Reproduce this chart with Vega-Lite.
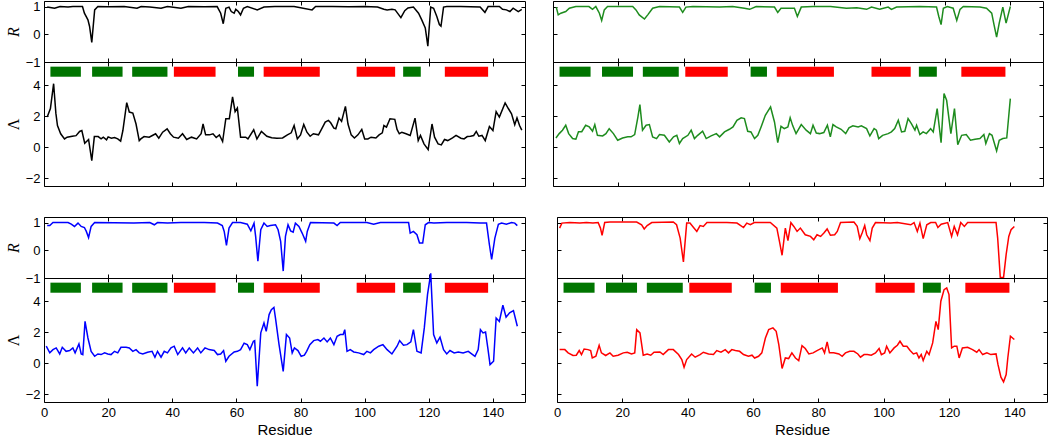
{
"$schema": "https://vega.github.io/schema/vega-lite/v6.json",
"padding": {"left": 4, "top": 0, "right": 0, "bottom": 0},
"spacing": 29,
"config": {
 "view": {"stroke": "#000", "strokeWidth": 1},
 "axis": {"domain": false, "grid": false, "ticks": true, "tickSize": 4, "offset": -4, "tickColor": "#000", "tickWidth": 1,
  "labelFont": "Liberation Sans", "labelFontSize": 13, "labelColor": "#000", "labelFlush": false, "labelPadding": 4,
  "titleFont": "Liberation Sans", "titleFontSize": 15, "titleFontWeight": "normal", "titleColor": "#000", "titlePadding": 3},
 "line": {"strokeWidth": 1.5, "clip": true}
},
"datasets": {
 "bars": [
  {"a": 2, "b": 11.5, "t": "E"}, {"a": 15, "b": 24.5, "t": "E"}, {"a": 27.5, "b": 38.5, "t": "E"},
  {"a": 40.5, "b": 53.5, "t": "H"}, {"a": 60.5, "b": 65.5, "t": "E"}, {"a": 68.5, "b": 86, "t": "H"},
  {"a": 97.5, "b": 109.5, "t": "H"}, {"a": 112, "b": 117.5, "t": "E"}, {"a": 125, "b": 138.5, "t": "H"}
 ],
 "AR": [{"x":1,"y":0.98},{"x":3.3,"y":0.94},{"x":5,"y":1.0},{"x":7.5,"y":0.98},{"x":9,"y":1.0},{"x":12,"y":1.0},{"x":12.6,"y":0.76},{"x":13.7,"y":0.52},{"x":14.2,"y":0.29},{"x":14.9,"y":-0.29},{"x":15.8,"y":0.88},{"x":16.8,"y":1.0},{"x":20,"y":0.99},{"x":25,"y":1.0},{"x":29,"y":0.94},{"x":30.3,"y":1.0},{"x":33,"y":0.98},{"x":36.5,"y":0.94},{"x":38.5,"y":1.0},{"x":42.7,"y":0.94},{"x":45,"y":1.0},{"x":50,"y":0.99},{"x":54,"y":1.0},{"x":55.1,"y":0.76},{"x":55.9,"y":0.38},{"x":56.7,"y":0.94},{"x":57.7,"y":0.98},{"x":58.4,"y":0.82},{"x":59.3,"y":0.76},{"x":59.8,"y":0.9},{"x":60.6,"y":0.82},{"x":61.3,"y":0.7},{"x":62.2,"y":0.94},{"x":63.4,"y":1.0},{"x":66.5,"y":0.88},{"x":68.6,"y":0.98},{"x":72,"y":1.0},{"x":78,"y":1.0},{"x":83.6,"y":0.88},{"x":84.7,"y":1.0},{"x":90,"y":1.0},{"x":95,"y":0.99},{"x":100,"y":1.0},{"x":104,"y":0.98},{"x":106,"y":0.9},{"x":107,"y":0.88},{"x":108.5,"y":0.9},{"x":109.5,"y":0.88},{"x":111.3,"y":0.6},{"x":112.5,"y":0.85},{"x":113.5,"y":0.95},{"x":115.2,"y":0.98},{"x":116.8,"y":0.76},{"x":117.8,"y":0.52},{"x":118.9,"y":0.23},{"x":119.7,"y":-0.43},{"x":120.6,"y":0.98},{"x":121.5,"y":0.94},{"x":122.5,"y":0.64},{"x":123.3,"y":0.35},{"x":123.8,"y":0.29},{"x":124.6,"y":0.98},{"x":125.6,"y":1.0},{"x":130,"y":1.0},{"x":136,"y":0.98},{"x":137.5,"y":0.79},{"x":138.5,"y":1.0},{"x":142,"y":1.0},{"x":143,"y":0.9},{"x":144.2,"y":0.88},{"x":145.3,"y":0.82},{"x":146.3,"y":0.94},{"x":147.9,"y":0.82},{"x":149,"y":0.9}],
 "AL": [{"x":1,"y":1.95},{"x":2,"y":2.5},{"x":3,"y":4.1},{"x":3.7,"y":2.2},{"x":4.2,"y":1.4},{"x":5.2,"y":0.87},{"x":6.4,"y":0.54},{"x":7.2,"y":0.65},{"x":8.8,"y":0.71},{"x":10,"y":0.75},{"x":11.1,"y":1.02},{"x":11.8,"y":1.08},{"x":12.7,"y":0.26},{"x":13.9,"y":0.5},{"x":14.9,"y":-0.87},{"x":15.7,"y":0.69},{"x":16.9,"y":0.69},{"x":17.8,"y":0.54},{"x":18.5,"y":0.65},{"x":19.5,"y":0.48},{"x":20,"y":0.67},{"x":21,"y":0.58},{"x":22,"y":0.63},{"x":23,"y":0.54},{"x":23.9,"y":0.39},{"x":24.6,"y":1.08},{"x":25.8,"y":2.88},{"x":26.6,"y":2.27},{"x":27.7,"y":2.2},{"x":28.7,"y":1.5},{"x":29.7,"y":0.43},{"x":30.2,"y":0.54},{"x":31.2,"y":0.69},{"x":32.8,"y":0.65},{"x":33.8,"y":0.76},{"x":34.8,"y":0.87},{"x":35.8,"y":0.58},{"x":37,"y":0.97},{"x":38.4,"y":1.19},{"x":39.4,"y":0.87},{"x":40.4,"y":0.65},{"x":41.9,"y":0.58},{"x":43.2,"y":0.87},{"x":44.5,"y":0.5},{"x":46,"y":0.65},{"x":47.6,"y":0.54},{"x":49,"y":0.87},{"x":49.6,"y":1.5},{"x":50.4,"y":0.8},{"x":51.6,"y":0.8},{"x":52.7,"y":0.87},{"x":53.7,"y":0.63},{"x":54.7,"y":0.8},{"x":55.7,"y":0.37},{"x":56.7,"y":1.84},{"x":57.8,"y":1.84},{"x":58.8,"y":3.25},{"x":59.6,"y":2.3},{"x":60.3,"y":2.53},{"x":61.3,"y":0.65},{"x":62.9,"y":0.65},{"x":63.6,"y":0.54},{"x":65.4,"y":1.13},{"x":66.4,"y":0.54},{"x":67.8,"y":1.02},{"x":69.5,"y":0.71},{"x":71,"y":0.61},{"x":72.6,"y":0.58},{"x":74.4,"y":0.6},{"x":75.9,"y":0.8},{"x":77.1,"y":0.93},{"x":78,"y":1.4},{"x":79,"y":0.54},{"x":80,"y":0.8},{"x":81,"y":1.47},{"x":82,"y":0.97},{"x":83,"y":0.71},{"x":84,"y":0.87},{"x":85.6,"y":0.8},{"x":86.6,"y":1.19},{"x":87.7,"y":1.62},{"x":88.7,"y":1.73},{"x":89.4,"y":1.58},{"x":90.4,"y":1.23},{"x":91,"y":1.19},{"x":92,"y":1.88},{"x":92.8,"y":1.67},{"x":94,"y":2.64},{"x":94.8,"y":1.5},{"x":95.8,"y":0.8},{"x":96.8,"y":0.6},{"x":97.9,"y":0.8},{"x":99.1,"y":1.15},{"x":100,"y":0.54},{"x":101,"y":0.54},{"x":102,"y":0.65},{"x":103.5,"y":0.6},{"x":104.5,"y":0.8},{"x":105.5,"y":0.93},{"x":106,"y":1.4},{"x":106.8,"y":1.3},{"x":107.9,"y":1.84},{"x":109.4,"y":1.8},{"x":110.1,"y":1.15},{"x":110.8,"y":0.87},{"x":111.6,"y":0.97},{"x":112.9,"y":0.87},{"x":114.2,"y":0.76},{"x":115.7,"y":1.88},{"x":116.7,"y":0.43},{"x":117.4,"y":0.76},{"x":118.5,"y":0.22},{"x":119.8,"y":-0.15},{"x":121,"y":1.5},{"x":121.8,"y":0.65},{"x":122.9,"y":0.22},{"x":123.9,"y":0.15},{"x":124.9,"y":0.5},{"x":125.9,"y":0.43},{"x":127.4,"y":0.6},{"x":128.5,"y":0.76},{"x":130,"y":0.58},{"x":131,"y":0.54},{"x":132,"y":0.69},{"x":133,"y":0.71},{"x":134,"y":0.76},{"x":134.8,"y":1.02},{"x":135.6,"y":0.71},{"x":136.6,"y":0.76},{"x":137.6,"y":0.43},{"x":138.9,"y":1.34},{"x":140,"y":1.08},{"x":141,"y":2.3},{"x":142,"y":1.95},{"x":143.8,"y":2.86},{"x":144.8,"y":2.5},{"x":145.8,"y":2.16},{"x":146.8,"y":1.45},{"x":147.5,"y":1.9},{"x":148.3,"y":1.4},{"x":149,"y":1.1}],
 "BR": [{"x":1,"y":0.98},{"x":1.6,"y":0.7},{"x":2.4,"y":0.76},{"x":3.9,"y":0.82},{"x":5,"y":0.94},{"x":7,"y":1.0},{"x":11,"y":1.0},{"x":12.1,"y":0.9},{"x":13.1,"y":1.0},{"x":14.2,"y":0.76},{"x":14.9,"y":0.5},{"x":15.7,"y":0.88},{"x":16.7,"y":1.0},{"x":24.4,"y":1.0},{"x":25.4,"y":0.88},{"x":26.4,"y":0.7},{"x":28,"y":0.55},{"x":29,"y":0.7},{"x":30.5,"y":0.94},{"x":32.6,"y":1.0},{"x":38.7,"y":0.98},{"x":39.7,"y":0.79},{"x":40.7,"y":0.98},{"x":42.8,"y":1.0},{"x":51,"y":0.98},{"x":55,"y":1.0},{"x":58.6,"y":0.94},{"x":60.2,"y":0.9},{"x":62.2,"y":1.0},{"x":67.8,"y":0.98},{"x":68.8,"y":0.79},{"x":69.8,"y":0.94},{"x":73.9,"y":0.94},{"x":74.8,"y":0.64},{"x":76,"y":0.98},{"x":79.6,"y":1.0},{"x":85,"y":1.0},{"x":89.8,"y":0.94},{"x":93,"y":0.96},{"x":96,"y":0.9},{"x":97.5,"y":0.98},{"x":100,"y":0.9},{"x":102.6,"y":0.98},{"x":103.6,"y":0.9},{"x":105.2,"y":0.98},{"x":112.3,"y":1.0},{"x":117.4,"y":0.98},{"x":118.1,"y":0.64},{"x":118.8,"y":0.35},{"x":119.5,"y":0.94},{"x":120.7,"y":1.0},{"x":122.5,"y":0.94},{"x":123.6,"y":0.5},{"x":124.6,"y":0.9},{"x":125.6,"y":1.0},{"x":130.7,"y":0.98},{"x":132.7,"y":0.94},{"x":134.3,"y":0.76},{"x":135,"y":0.35},{"x":135.8,"y":-0.1},{"x":136.6,"y":0.4},{"x":137.7,"y":0.98},{"x":138.7,"y":0.4},{"x":140,"y":1.0}],
 "BL": [{"x":0.9,"y":0.6},{"x":1.9,"y":0.88},{"x":2.9,"y":1.1},{"x":3.9,"y":1.42},{"x":4.8,"y":0.88},{"x":6,"y":0.56},{"x":7,"y":0.52},{"x":7.8,"y":1.0},{"x":8.8,"y":1.0},{"x":10,"y":1.42},{"x":11.1,"y":1.31},{"x":12.1,"y":1.03},{"x":12.8,"y":1.46},{"x":13.6,"y":0.77},{"x":15.2,"y":0.73},{"x":16.2,"y":0.88},{"x":17.2,"y":1.2},{"x":18.5,"y":0.88},{"x":19.8,"y":0.45},{"x":21.3,"y":0.6},{"x":22.9,"y":0.67},{"x":23.9,"y":0.67},{"x":25,"y":0.82},{"x":26,"y":1.96},{"x":26.6,"y":2.75},{"x":27.4,"y":1.1},{"x":28.5,"y":1.42},{"x":29.5,"y":1.46},{"x":30.5,"y":0.67},{"x":31.7,"y":0.56},{"x":32.6,"y":0.82},{"x":34.1,"y":0.77},{"x":35.6,"y":0.34},{"x":36.9,"y":0.67},{"x":37.9,"y":0.77},{"x":38.7,"y":0.24},{"x":39.7,"y":0.56},{"x":41.3,"y":0.77},{"x":42.3,"y":1.1},{"x":43.3,"y":0.56},{"x":44.3,"y":0.77},{"x":45.8,"y":1.03},{"x":46.9,"y":0.56},{"x":48.4,"y":0.73},{"x":50,"y":0.88},{"x":51,"y":0.67},{"x":52.5,"y":0.99},{"x":54,"y":1.16},{"x":55.1,"y":1.31},{"x":56.3,"y":1.74},{"x":57.6,"y":1.9},{"x":58.6,"y":1.85},{"x":59.6,"y":1.03},{"x":60.6,"y":0.99},{"x":61.7,"y":0.56},{"x":62.7,"y":0.77},{"x":63.7,"y":1.31},{"x":65,"y":2.06},{"x":66.6,"y":2.6},{"x":67.8,"y":1.63},{"x":68.8,"y":0.3},{"x":69.8,"y":1.35},{"x":70.8,"y":1.2},{"x":71.9,"y":1.31},{"x":72.6,"y":1.9},{"x":73.4,"y":1.38},{"x":74.4,"y":0.88},{"x":76,"y":1.46},{"x":77.5,"y":1.1},{"x":78.8,"y":0.88},{"x":79.6,"y":1.42},{"x":80.6,"y":0.92},{"x":81.6,"y":0.88},{"x":82.9,"y":0.95},{"x":84,"y":1.42},{"x":84.9,"y":0.67},{"x":85.7,"y":1.46},{"x":86.7,"y":1.31},{"x":88.2,"y":1.16},{"x":89.6,"y":0.88},{"x":90.6,"y":1.25},{"x":91.8,"y":1.38},{"x":93.4,"y":1.31},{"x":94.4,"y":1.38},{"x":96,"y":1.2},{"x":97,"y":0.73},{"x":98.3,"y":1.2},{"x":99,"y":1.1},{"x":99.7,"y":0.56},{"x":100.9,"y":0.77},{"x":102.6,"y":0.88},{"x":103.6,"y":0.99},{"x":104.6,"y":1.2},{"x":105.7,"y":1.74},{"x":106.7,"y":0.99},{"x":107.7,"y":1.03},{"x":108.7,"y":1.85},{"x":109.7,"y":1.53},{"x":110.8,"y":1.1},{"x":111.3,"y":1.42},{"x":112.3,"y":0.82},{"x":113.3,"y":0.99},{"x":114.3,"y":0.88},{"x":115.6,"y":1.2},{"x":116.4,"y":0.99},{"x":117.6,"y":2.49},{"x":118.8,"y":0.3},{"x":119.7,"y":3.46},{"x":120.5,"y":3.03},{"x":121.8,"y":0.88},{"x":122.9,"y":2.49},{"x":123.9,"y":0.17},{"x":125.1,"y":0.77},{"x":126.5,"y":0.82},{"x":127.8,"y":0.45},{"x":129.2,"y":0.52},{"x":130.7,"y":0.56},{"x":131.9,"y":0.82},{"x":132.5,"y":0.24},{"x":133.6,"y":0.88},{"x":134.4,"y":0.77},{"x":135,"y":0.34},{"x":135.8,"y":-0.24},{"x":136.6,"y":0.45},{"x":137.7,"y":0.56},{"x":138.9,"y":0.6},{"x":140,"y":3.14}],
 "CR": [{"x":1,"y":0.89},{"x":1.8,"y":0.89},{"x":2.8,"y":1.0},{"x":7.5,"y":1.0},{"x":8.5,"y":0.94},{"x":9.5,"y":0.86},{"x":10.6,"y":0.98},{"x":11.6,"y":0.86},{"x":12.6,"y":0.82},{"x":13.2,"y":0.68},{"x":13.9,"y":0.46},{"x":14.7,"y":0.86},{"x":15.8,"y":1.0},{"x":28,"y":0.98},{"x":33,"y":1.0},{"x":34.4,"y":0.92},{"x":35.4,"y":1.0},{"x":38.5,"y":0.98},{"x":42.7,"y":1.0},{"x":50,"y":1.0},{"x":54.1,"y":0.98},{"x":55.6,"y":0.89},{"x":56.2,"y":0.68},{"x":56.9,"y":0.18},{"x":57.7,"y":0.8},{"x":58.8,"y":1.0},{"x":61.3,"y":1.0},{"x":63.4,"y":0.94},{"x":64.5,"y":0.7},{"x":65.5,"y":0.98},{"x":66,"y":0.5},{"x":66.7,"y":-0.39},{"x":67.6,"y":0.74},{"x":68.6,"y":0.98},{"x":69.6,"y":0.86},{"x":70.6,"y":0.89},{"x":72.2,"y":0.92},{"x":73,"y":0.74},{"x":73.8,"y":0.32},{"x":74.6,"y":-0.75},{"x":75.3,"y":0.5},{"x":76.1,"y":0.92},{"x":76.9,"y":0.7},{"x":77.7,"y":0.65},{"x":78.4,"y":0.98},{"x":79.5,"y":0.86},{"x":80.5,"y":0.62},{"x":81.6,"y":0.32},{"x":82.1,"y":0.68},{"x":83.1,"y":1.0},{"x":90.4,"y":0.98},{"x":91.4,"y":0.89},{"x":92.4,"y":1.0},{"x":100.7,"y":1.0},{"x":102.8,"y":0.94},{"x":104.9,"y":1.0},{"x":113.7,"y":1.0},{"x":114.2,"y":0.62},{"x":115.2,"y":0.68},{"x":116.3,"y":0.56},{"x":117.1,"y":0.26},{"x":118.1,"y":0.26},{"x":118.9,"y":0.92},{"x":119.9,"y":1.0},{"x":121.6,"y":0.98},{"x":125.6,"y":1.0},{"x":131.8,"y":1.0},{"x":136,"y":0.98},{"x":138,"y":0.98},{"x":138.9,"y":0.2},{"x":139.6,"y":-0.33},{"x":140.6,"y":0.44},{"x":141.7,"y":0.94},{"x":142.7,"y":0.98},{"x":144.2,"y":0.94},{"x":145.8,"y":1.0},{"x":146.8,"y":0.98},{"x":147.6,"y":0.89}],
 "CL": [{"x":0.7,"y":1.1},{"x":1.8,"y":0.67},{"x":2.8,"y":0.88},{"x":3.8,"y":0.99},{"x":4.9,"y":0.6},{"x":5.7,"y":1.03},{"x":6.9,"y":0.77},{"x":8,"y":0.82},{"x":9,"y":0.99},{"x":9.7,"y":0.67},{"x":10.9,"y":1.25},{"x":11.6,"y":0.6},{"x":12.1,"y":0.56},{"x":12.8,"y":2.7},{"x":13.7,"y":1.63},{"x":14.7,"y":0.77},{"x":15.8,"y":0.45},{"x":16.8,"y":0.6},{"x":17.8,"y":0.56},{"x":18.9,"y":0.67},{"x":19.9,"y":0.6},{"x":20.9,"y":0.56},{"x":22,"y":0.77},{"x":23,"y":0.67},{"x":24,"y":1.03},{"x":25.6,"y":1.03},{"x":26.6,"y":0.99},{"x":27.7,"y":0.77},{"x":28.7,"y":0.88},{"x":29.7,"y":0.67},{"x":30.8,"y":0.6},{"x":32.3,"y":0.71},{"x":33.7,"y":0.77},{"x":34.6,"y":0.39},{"x":35.4,"y":0.77},{"x":36.5,"y":0.39},{"x":37.5,"y":0.77},{"x":38.5,"y":0.67},{"x":39.6,"y":0.99},{"x":40.6,"y":1.1},{"x":41.7,"y":0.56},{"x":43.2,"y":0.99},{"x":44.2,"y":0.67},{"x":45.3,"y":0.99},{"x":46.6,"y":0.67},{"x":47.9,"y":0.99},{"x":48.9,"y":0.67},{"x":50.2,"y":0.99},{"x":51.5,"y":0.88},{"x":53.1,"y":0.82},{"x":54.1,"y":0.56},{"x":55.1,"y":0.6},{"x":56,"y":0.82},{"x":56.7,"y":0.13},{"x":57.7,"y":0.45},{"x":59.3,"y":0.73},{"x":60.3,"y":0.77},{"x":61.3,"y":0.88},{"x":62.4,"y":1.29},{"x":63.4,"y":1.2},{"x":64.2,"y":0.88},{"x":65.3,"y":1.42},{"x":65.7,"y":1.46},{"x":66.5,"y":-1.48},{"x":67.6,"y":1.96},{"x":68.6,"y":2.6},{"x":69.3,"y":2.06},{"x":70.2,"y":3.14},{"x":70.9,"y":3.46},{"x":71.7,"y":3.6},{"x":72.2,"y":2.9},{"x":73.3,"y":1.2},{"x":74.6,"y":-0.52},{"x":75.6,"y":1.85},{"x":76.6,"y":1.63},{"x":77.4,"y":0.67},{"x":78.1,"y":0.99},{"x":79.2,"y":0.82},{"x":80.2,"y":0.45},{"x":81.2,"y":0.52},{"x":81.9,"y":0.77},{"x":82.9,"y":1.2},{"x":84.1,"y":1.46},{"x":85.4,"y":1.53},{"x":86.2,"y":1.42},{"x":87.3,"y":1.63},{"x":88.3,"y":1.38},{"x":89.3,"y":1.63},{"x":90.4,"y":1.2},{"x":91.4,"y":1.74},{"x":92.4,"y":1.85},{"x":93.3,"y":1.85},{"x":93.8,"y":2.17},{"x":94.5,"y":0.77},{"x":95.5,"y":0.88},{"x":96.6,"y":0.73},{"x":98.1,"y":0.67},{"x":99.7,"y":0.56},{"x":100.7,"y":0.77},{"x":101.8,"y":0.67},{"x":102.8,"y":0.88},{"x":104.4,"y":1.1},{"x":105.7,"y":1.2},{"x":107,"y":0.88},{"x":108.5,"y":0.6},{"x":110.1,"y":1.1},{"x":110.9,"y":1.46},{"x":112.1,"y":1.16},{"x":113.2,"y":1.2},{"x":114.4,"y":1.38},{"x":115.2,"y":2.17},{"x":116.3,"y":0.77},{"x":117.6,"y":0.67},{"x":118.6,"y":2.28},{"x":119.6,"y":4.43},{"x":120.6,"y":5.8},{"x":121.5,"y":1.85},{"x":122.5,"y":1.31},{"x":123.5,"y":1.68},{"x":124.6,"y":0.88},{"x":125.6,"y":0.6},{"x":126.6,"y":0.82},{"x":127.9,"y":0.67},{"x":129.2,"y":0.73},{"x":130.7,"y":0.67},{"x":132.3,"y":0.77},{"x":134.4,"y":0.45},{"x":135.4,"y":0.88},{"x":136.1,"y":2.17},{"x":136.9,"y":1.96},{"x":137.7,"y":2.02},{"x":138.4,"y":0.99},{"x":139.1,"y":-0.09},{"x":140.2,"y":0.13},{"x":141,"y":2.92},{"x":142,"y":2.7},{"x":143.1,"y":3.74},{"x":144.1,"y":2.97},{"x":145.2,"y":3.25},{"x":146.4,"y":3.4},{"x":147.6,"y":2.39}],
 "DR": [{"x":0.8,"y":0.8},{"x":1.5,"y":0.98},{"x":3.9,"y":1.0},{"x":7,"y":0.98},{"x":9,"y":1.0},{"x":11,"y":0.98},{"x":12.6,"y":1.0},{"x":13.3,"y":0.8},{"x":13.8,"y":0.54},{"x":14.6,"y":1.0},{"x":16.2,"y":1.02},{"x":24.4,"y":1.02},{"x":25.9,"y":0.92},{"x":26.7,"y":0.77},{"x":27.6,"y":0.89},{"x":29,"y":1.0},{"x":35.6,"y":1.02},{"x":36.6,"y":0.92},{"x":37.7,"y":0.44},{"x":38.7,"y":-0.42},{"x":39.7,"y":0.98},{"x":40.7,"y":0.98},{"x":41.8,"y":0.82},{"x":42.8,"y":0.68},{"x":43.8,"y":0.89},{"x":44.8,"y":0.86},{"x":45.9,"y":1.0},{"x":52,"y":1.0},{"x":55.1,"y":0.98},{"x":57.1,"y":0.82},{"x":58.1,"y":0.98},{"x":59.2,"y":0.92},{"x":60.4,"y":1.0},{"x":65.3,"y":1.0},{"x":67.3,"y":0.8},{"x":68.2,"y":0.26},{"x":68.9,"y":-0.18},{"x":69.9,"y":0.8},{"x":70.7,"y":0.35},{"x":71.6,"y":1.0},{"x":72.5,"y":0.86},{"x":73.5,"y":0.68},{"x":74.5,"y":0.8},{"x":76,"y":0.56},{"x":77.6,"y":0.5},{"x":78.6,"y":0.38},{"x":79.6,"y":0.56},{"x":80.7,"y":0.5},{"x":81.7,"y":0.62},{"x":82.7,"y":0.77},{"x":83.7,"y":0.54},{"x":85,"y":0.56},{"x":85.8,"y":0.68},{"x":86.8,"y":1.0},{"x":90.9,"y":1.02},{"x":91.9,"y":0.86},{"x":92.7,"y":0.42},{"x":93.4,"y":0.62},{"x":94.2,"y":0.89},{"x":94.8,"y":0.56},{"x":95.8,"y":0.35},{"x":96.5,"y":0.8},{"x":97.5,"y":1.0},{"x":102.1,"y":0.98},{"x":104.2,"y":1.0},{"x":108.3,"y":0.92},{"x":109.3,"y":1.0},{"x":110.3,"y":0.68},{"x":111.1,"y":0.98},{"x":112.1,"y":0.42},{"x":113.2,"y":0.92},{"x":114.4,"y":1.0},{"x":115.9,"y":1.0},{"x":116.6,"y":0.82},{"x":117.6,"y":0.94},{"x":119.6,"y":1.0},{"x":120.8,"y":0.5},{"x":121.6,"y":0.86},{"x":122.6,"y":0.56},{"x":123.6,"y":1.0},{"x":124.7,"y":0.86},{"x":125.7,"y":1.0},{"x":134.4,"y":1.0},{"x":134.9,"y":0.44},{"x":135.7,"y":-0.98},{"x":136.7,"y":-0.98},{"x":137.5,"y":-0.15},{"x":138.3,"y":0.5},{"x":139,"y":0.74},{"x":140,"y":0.86}],
 "DL": [{"x":0.8,"y":0.88},{"x":2.4,"y":0.88},{"x":3.4,"y":0.67},{"x":4.9,"y":0.5},{"x":5.9,"y":0.52},{"x":6.8,"y":0.82},{"x":7.5,"y":0.56},{"x":8.3,"y":0.92},{"x":9.5,"y":0.88},{"x":10.3,"y":0.82},{"x":10.8,"y":0.34},{"x":11.9,"y":0.45},{"x":12.9,"y":1.16},{"x":13.6,"y":0.67},{"x":14.9,"y":0.5},{"x":16.2,"y":0.67},{"x":17.2,"y":0.45},{"x":18.7,"y":0.52},{"x":20.3,"y":0.67},{"x":21.5,"y":0.71},{"x":22.8,"y":0.6},{"x":23.8,"y":0.67},{"x":24.4,"y":2.17},{"x":25.4,"y":1.96},{"x":26.4,"y":0.52},{"x":27.6,"y":0.6},{"x":28.7,"y":0.52},{"x":29.7,"y":0.71},{"x":31.5,"y":0.73},{"x":32.5,"y":0.56},{"x":34.1,"y":0.88},{"x":35.6,"y":0.88},{"x":37.2,"y":0.56},{"x":38.2,"y":0.24},{"x":38.9,"y":-0.26},{"x":39.7,"y":0.24},{"x":41.2,"y":0.6},{"x":42.3,"y":0.39},{"x":43.8,"y":0.56},{"x":44.8,"y":0.71},{"x":46.4,"y":0.6},{"x":47.9,"y":0.56},{"x":48.9,"y":0.82},{"x":50.2,"y":0.71},{"x":51.5,"y":0.88},{"x":52.5,"y":0.67},{"x":53.5,"y":0.88},{"x":54.6,"y":0.82},{"x":55.9,"y":0.77},{"x":57.1,"y":0.56},{"x":58.6,"y":0.45},{"x":59.7,"y":0.52},{"x":60.5,"y":0.34},{"x":61.7,"y":0.45},{"x":62.7,"y":0.67},{"x":63.8,"y":1.63},{"x":64.8,"y":2.17},{"x":66.1,"y":2.28},{"x":67.1,"y":2.06},{"x":67.9,"y":1.2},{"x":68.9,"y":-0.34},{"x":69.9,"y":0.34},{"x":70.9,"y":0.3},{"x":71.9,"y":0.67},{"x":73,"y":0.34},{"x":74,"y":0.17},{"x":75,"y":1.14},{"x":76,"y":0.95},{"x":77.1,"y":0.6},{"x":78.4,"y":0.67},{"x":79.6,"y":0.82},{"x":81.2,"y":0.99},{"x":81.9,"y":0.67},{"x":82.7,"y":1.38},{"x":83.4,"y":0.67},{"x":84.7,"y":0.67},{"x":86.3,"y":0.6},{"x":87.3,"y":0.45},{"x":88.3,"y":0.67},{"x":89.6,"y":0.77},{"x":90.9,"y":0.77},{"x":92.1,"y":0.6},{"x":92.9,"y":0.39},{"x":94,"y":0.56},{"x":95,"y":0.56},{"x":96.2,"y":0.52},{"x":97.5,"y":0.67},{"x":98.6,"y":0.95},{"x":99.3,"y":0.56},{"x":100.3,"y":0.67},{"x":100.9,"y":1.1},{"x":101.9,"y":0.67},{"x":103.2,"y":0.99},{"x":104.2,"y":1.16},{"x":105,"y":1.42},{"x":106,"y":1.1},{"x":107.1,"y":1.1},{"x":108.1,"y":0.82},{"x":109.1,"y":0.6},{"x":110.1,"y":0.67},{"x":110.8,"y":0.34},{"x":111.5,"y":0.56},{"x":112.1,"y":0.17},{"x":113.2,"y":0.77},{"x":113.9,"y":0.56},{"x":115,"y":1.31},{"x":116,"y":2.7},{"x":116.7,"y":2.17},{"x":117.5,"y":4.0},{"x":118.5,"y":4.75},{"x":119.3,"y":4.86},{"x":120,"y":4.43},{"x":120.8,"y":0.99},{"x":121.6,"y":1.1},{"x":122.4,"y":1.1},{"x":123.1,"y":0.34},{"x":124.1,"y":0.99},{"x":125.7,"y":1.03},{"x":127.2,"y":0.88},{"x":128.5,"y":0.71},{"x":129.2,"y":0.88},{"x":130.3,"y":0.56},{"x":131.6,"y":0.67},{"x":132.8,"y":0.56},{"x":134.4,"y":0.6},{"x":135,"y":-0.09},{"x":135.9,"y":-0.9},{"x":136.7,"y":-1.2},{"x":137.5,"y":-0.73},{"x":138,"y":0.34},{"x":138.8,"y":1.74},{"x":140,"y":1.53}]
},
"vconcat": [
 {"hconcat": [
  {"vconcat": [
   {"width": 481, "height": 61, "resolve": {"axis": {"x": "independent", "y": "independent"}}, "layer": [
    {"data": {"name": "AR"}, "mark": {"type": "line", "color": "#000"}, "encoding": {
     "x": {"field": "x", "type": "quantitative", "scale": {"domain": [0, 150], "nice": false, "zero": false}, "axis": {"values": [0,20,40,60,80,100,120,140], "labels": false, "title": null}},
     "y": {"field": "y", "type": "quantitative", "scale": {"domain": [-1, 1.2], "nice": false, "zero": false}, "axis": {"values": [-1,0,1], "title": "R", "titleFont": "Liberation Serif", "titleFontStyle": "italic", "titleFontSize": 16, "titlePadding": 4}}}},
    {"data": {"name": "AR"}, "mark": {"type": "line", "strokeOpacity": 0}, "encoding": {
     "x": {"field": "x", "type": "quantitative", "scale": {"domain": [0, 150], "nice": false, "zero": false}, "axis": {"orient": "top", "values": [0,20,40,60,80,100,120,140], "labels": false, "title": null}},
     "y": {"field": "y", "type": "quantitative", "scale": {"domain": [-1, 1.2], "nice": false, "zero": false}, "axis": {"orient": "right", "values": [-1,0,1], "labels": false, "title": null}}}}
   ]},
   {"width": 481, "height": 124, "resolve": {"axis": {"x": "independent", "y": "independent"}}, "layer": [
    {"data": {"name": "bars"}, "mark": {"type": "rect"}, "encoding": {
     "x": {"field": "a", "type": "quantitative", "scale": {"domain": [0, 150], "nice": false, "zero": false}, "axis": {"values": [0,20,40,60,80,100,120,140], "labels": false, "title": null}},
     "x2": {"field": "b"},
     "y": {"datum": 4.55, "type": "quantitative", "scale": {"domain": [-2.5, 5.5], "nice": false, "zero": false}, "axis": {"values": [-2,0,2,4], "title": "Λ", "titleFont": "Liberation Serif", "titleFontSize": 16, "titlePadding": 4}},
     "y2": {"datum": 5.2},
     "color": {"field": "t", "type": "nominal", "scale": {"domain": ["E", "H"], "range": ["#007500", "#ff0000"]}, "legend": null}}},
    {"data": {"name": "AL"}, "mark": {"type": "line", "color": "#000"}, "encoding": {
     "x": {"field": "x", "type": "quantitative", "axis": {"orient": "top", "values": [0,20,40,60,80,100,120,140], "labels": false, "title": null}},
     "y": {"field": "y", "type": "quantitative", "axis": {"orient": "right", "values": [-2,0,2,4], "labels": false, "title": null}}}}
   ]}
  ], "spacing": 0, "bounds": "flush"},
  {"vconcat": [
   {"width": 490, "height": 61, "resolve": {"axis": {"x": "independent", "y": "independent"}}, "layer": [
    {"data": {"name": "BR"}, "mark": {"type": "line", "color": "#1e8c1e"}, "encoding": {
     "x": {"field": "x", "type": "quantitative", "scale": {"domain": [0, 150], "nice": false, "zero": false}, "axis": {"values": [0,20,40,60,80,100,120,140], "labels": false, "title": null}},
     "y": {"field": "y", "type": "quantitative", "scale": {"domain": [-1, 1.2], "nice": false, "zero": false}, "axis": {"values": [-1,0,1], "labels": false, "title": null}}}},
    {"data": {"name": "BR"}, "mark": {"type": "line", "strokeOpacity": 0}, "encoding": {
     "x": {"field": "x", "type": "quantitative", "scale": {"domain": [0, 150], "nice": false, "zero": false}, "axis": {"orient": "top", "values": [0,20,40,60,80,100,120,140], "labels": false, "title": null}},
     "y": {"field": "y", "type": "quantitative", "scale": {"domain": [-1, 1.2], "nice": false, "zero": false}, "axis": {"orient": "right", "values": [-1,0,1], "labels": false, "title": null}}}}
   ]},
   {"width": 490, "height": 124, "resolve": {"axis": {"x": "independent", "y": "independent"}}, "layer": [
    {"data": {"name": "bars"}, "mark": {"type": "rect"}, "encoding": {
     "x": {"field": "a", "type": "quantitative", "scale": {"domain": [0, 150], "nice": false, "zero": false}, "axis": {"values": [0,20,40,60,80,100,120,140], "labels": false, "title": null}},
     "x2": {"field": "b"},
     "y": {"datum": 4.55, "type": "quantitative", "scale": {"domain": [-2.5, 5.5], "nice": false, "zero": false}, "axis": {"values": [-2,0,2,4], "labels": false, "title": null}},
     "y2": {"datum": 5.2},
     "color": {"field": "t", "type": "nominal", "scale": {"domain": ["E", "H"], "range": ["#007500", "#ff0000"]}, "legend": null}}},
    {"data": {"name": "BL"}, "mark": {"type": "line", "color": "#1e8c1e"}, "encoding": {
     "x": {"field": "x", "type": "quantitative", "axis": {"orient": "top", "values": [0,20,40,60,80,100,120,140], "labels": false, "title": null}},
     "y": {"field": "y", "type": "quantitative", "axis": {"orient": "right", "values": [-2,0,2,4], "labels": false, "title": null}}}}
   ]}
  ], "spacing": 0, "bounds": "flush"}
 ], "spacing": 26},
 {"hconcat": [
  {"vconcat": [
   {"width": 481, "height": 61, "resolve": {"axis": {"x": "independent", "y": "independent"}}, "layer": [
    {"data": {"name": "CR"}, "mark": {"type": "line", "color": "#0000ff"}, "encoding": {
     "x": {"field": "x", "type": "quantitative", "scale": {"domain": [0, 150], "nice": false, "zero": false}, "axis": {"values": [0,20,40,60,80,100,120,140], "labels": false, "title": null}},
     "y": {"field": "y", "type": "quantitative", "scale": {"domain": [-1, 1.2], "nice": false, "zero": false}, "axis": {"values": [-1,0,1], "title": "R", "titleFont": "Liberation Serif", "titleFontStyle": "italic", "titleFontSize": 16, "titlePadding": 4}}}},
    {"data": {"name": "CR"}, "mark": {"type": "line", "strokeOpacity": 0}, "encoding": {
     "x": {"field": "x", "type": "quantitative", "scale": {"domain": [0, 150], "nice": false, "zero": false}, "axis": {"orient": "top", "values": [0,20,40,60,80,100,120,140], "labels": false, "title": null}},
     "y": {"field": "y", "type": "quantitative", "scale": {"domain": [-1, 1.2], "nice": false, "zero": false}, "axis": {"orient": "right", "values": [-1,0,1], "labels": false, "title": null}}}}
   ]},
   {"width": 481, "height": 124, "resolve": {"axis": {"x": "independent", "y": "independent"}}, "layer": [
    {"data": {"name": "bars"}, "mark": {"type": "rect"}, "encoding": {
     "x": {"field": "a", "type": "quantitative", "scale": {"domain": [0, 150], "nice": false, "zero": false}, "axis": {"values": [0,20,40,60,80,100,120,140], "title": "Residue"}},
     "x2": {"field": "b"},
     "y": {"datum": 4.55, "type": "quantitative", "scale": {"domain": [-2.5, 5.5], "nice": false, "zero": false}, "axis": {"values": [-2,0,2,4], "title": "Λ", "titleFont": "Liberation Serif", "titleFontSize": 16, "titlePadding": 4}},
     "y2": {"datum": 5.2},
     "color": {"field": "t", "type": "nominal", "scale": {"domain": ["E", "H"], "range": ["#007500", "#ff0000"]}, "legend": null}}},
    {"data": {"name": "CL"}, "mark": {"type": "line", "color": "#0000ff"}, "encoding": {
     "x": {"field": "x", "type": "quantitative", "axis": {"orient": "top", "values": [0,20,40,60,80,100,120,140], "labels": false, "title": null}},
     "y": {"field": "y", "type": "quantitative", "axis": {"orient": "right", "values": [-2,0,2,4], "labels": false, "title": null}}}}
   ]}
  ], "spacing": 0, "bounds": "flush"},
  {"vconcat": [
   {"width": 490, "height": 61, "resolve": {"axis": {"x": "independent", "y": "independent"}}, "layer": [
    {"data": {"name": "DR"}, "mark": {"type": "line", "color": "#ff0000"}, "encoding": {
     "x": {"field": "x", "type": "quantitative", "scale": {"domain": [0, 150], "nice": false, "zero": false}, "axis": {"values": [0,20,40,60,80,100,120,140], "labels": false, "title": null}},
     "y": {"field": "y", "type": "quantitative", "scale": {"domain": [-1, 1.2], "nice": false, "zero": false}, "axis": {"values": [-1,0,1], "labels": false, "title": null}}}},
    {"data": {"name": "DR"}, "mark": {"type": "line", "strokeOpacity": 0}, "encoding": {
     "x": {"field": "x", "type": "quantitative", "scale": {"domain": [0, 150], "nice": false, "zero": false}, "axis": {"orient": "top", "values": [0,20,40,60,80,100,120,140], "labels": false, "title": null}},
     "y": {"field": "y", "type": "quantitative", "scale": {"domain": [-1, 1.2], "nice": false, "zero": false}, "axis": {"orient": "right", "values": [-1,0,1], "labels": false, "title": null}}}}
   ]},
   {"width": 490, "height": 124, "resolve": {"axis": {"x": "independent", "y": "independent"}}, "layer": [
    {"data": {"name": "bars"}, "mark": {"type": "rect"}, "encoding": {
     "x": {"field": "a", "type": "quantitative", "scale": {"domain": [0, 150], "nice": false, "zero": false}, "axis": {"values": [0,20,40,60,80,100,120,140], "title": "Residue"}},
     "x2": {"field": "b"},
     "y": {"datum": 4.55, "type": "quantitative", "scale": {"domain": [-2.5, 5.5], "nice": false, "zero": false}, "axis": {"values": [-2,0,2,4], "labels": false, "title": null}},
     "y2": {"datum": 5.2},
     "color": {"field": "t", "type": "nominal", "scale": {"domain": ["E", "H"], "range": ["#007500", "#ff0000"]}, "legend": null}}},
    {"data": {"name": "DL"}, "mark": {"type": "line", "color": "#ff0000"}, "encoding": {
     "x": {"field": "x", "type": "quantitative", "axis": {"orient": "top", "values": [0,20,40,60,80,100,120,140], "labels": false, "title": null}},
     "y": {"field": "y", "type": "quantitative", "axis": {"orient": "right", "values": [-2,0,2,4], "labels": false, "title": null}}}}
   ]}
  ], "spacing": 0, "bounds": "flush"}
 ], "spacing": 26}
]
}
